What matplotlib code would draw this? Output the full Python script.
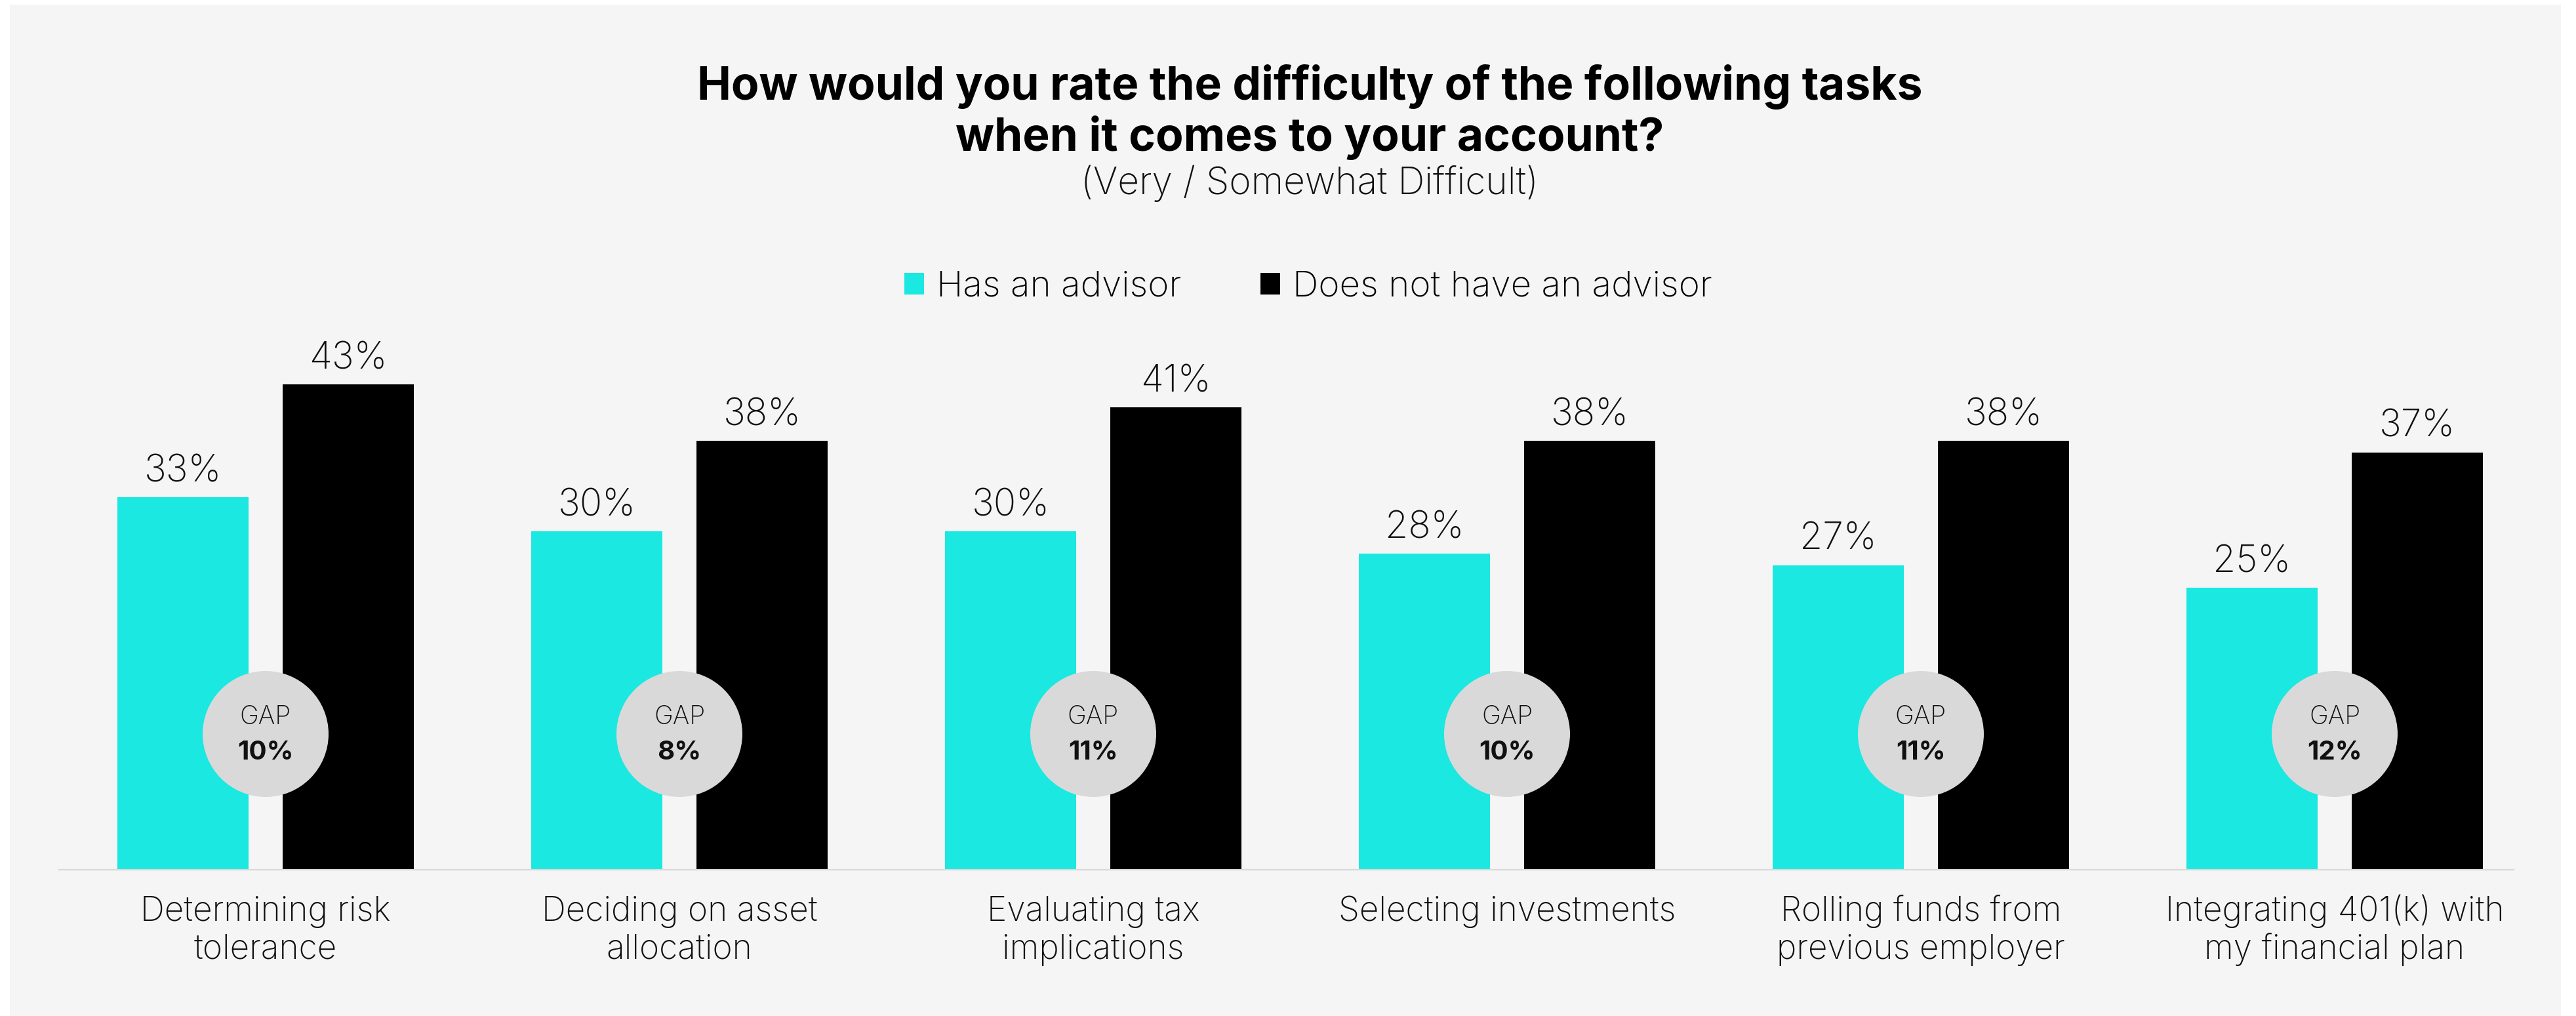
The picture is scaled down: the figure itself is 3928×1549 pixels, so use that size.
import matplotlib
matplotlib.use("Agg")
import matplotlib.pyplot as plt
import matplotlib.transforms as mtransforms
import numpy as np
from matplotlib.patches import Rectangle

# ---- data ----
categories = [
    "Determining risk\ntolerance",
    "Deciding on asset\nallocation",
    "Evaluating tax\nimplications",
    "Selecting investments",
    "Rolling funds from\nprevious employer",
    "Integrating 401(k) with\nmy financial plan",
]
has_advisor = [33, 30, 30, 28, 27, 25]
no_advisor = [43, 38, 41, 38, 38, 37]
series_names = ["Has an advisor", "Does not have an advisor"]

title_lines = [
    "How would you rate the difficulty of the following tasks",
    "when it comes to your account?",
]
subtitle = "(Very / Somewhat Difficult)"

# ---- style ----
FONT = ["Inter", "DejaVu Sans"]
plt.rcParams["font.family"] = FONT
CYAN = "#1be8e0"
BLACK = "#000000"
PANEL = "#f5f5f5"
GAP_FILL = "#d9d9d9"
AXIS = "#d9d9d9"
TEXT = "#111111"
BODY_WEIGHT = "light"

W, H, DPI = 3928, 1549, 100
fig = plt.figure(figsize=(W / DPI, H / DPI), dpi=DPI, facecolor="white")


def fx(px):
    return px / W


def fy(py_from_top):
    return 1 - py_from_top / H


# light grey panel behind everything
fig.patches.append(Rectangle((fx(15), 0), fx(3905 - 15), fy(7), transform=fig.transFigure,
                             facecolor=PANEL, edgecolor="none", zorder=-10))

# ---- axes ----
px_per_unit = 631.0
first_center = 405.0
ax_left_px, ax_right_px = 90.0, 3833.0
base_px = 1326.0
px_per_pct = 17.2
ymax = 50
ax = fig.add_axes([fx(ax_left_px), (H - base_px) / H,
                   fx(ax_right_px - ax_left_px), ymax * px_per_pct / H])
ax.set_facecolor("none")
ax.set_zorder(1)
ax.set_xlim((ax_left_px - first_center) / px_per_unit,
            (ax_right_px - first_center) / px_per_unit)
ax.set_ylim(0, ymax)

x = np.arange(len(categories))
off = 126 / px_per_unit
bw = 200 / px_per_unit
b1 = ax.bar(x - off, has_advisor, bw, color=CYAN, label=series_names[0], zorder=2)
b2 = ax.bar(x + off, no_advisor, bw, color=BLACK, label=series_names[1], zorder=2)

for spine in ["top", "left", "right"]:
    ax.spines[spine].set_visible(False)
ax.spines["bottom"].set_color(AXIS)
ax.spines["bottom"].set_linewidth(1.6)
ax.set_xticks([])
ax.set_yticks([])

# value labels above bars
label_fs = 41
for bars, vals in ((b1, has_advisor), (b2, no_advisor)):
    for rect, v in zip(bars, vals):
        ax.annotate(f"{v}%", (rect.get_x() + rect.get_width() / 2, v),
                    xytext=(0, 17), textcoords="offset points",
                    ha="center", va="baseline", fontsize=label_fs,
                    fontweight=BODY_WEIGHT, color=TEXT, zorder=4)

# GAP bubbles between each pair of bars
gap_y = 207 / px_per_pct
gaps = [n - h for h, n in zip(has_advisor, no_advisor)]
ax.scatter(x, [gap_y] * len(x), s=(192 * 72 / DPI) ** 2, color=GAP_FILL,
           edgecolors="none", zorder=3, clip_on=False)
for xi, g in zip(x, gaps):
    ax.annotate("GAP", (xi, gap_y), xytext=(0, 25 * 72 / DPI), textcoords="offset points",
                ha="center", va="center", fontsize=28, fontweight=BODY_WEIGHT,
                color=TEXT, zorder=5)
    ax.annotate(f"{g}%", (xi, gap_y), xytext=(0, -28 * 72 / DPI), textcoords="offset points",
                ha="center", va="center", fontsize=29, fontweight="bold",
                color=TEXT, zorder=5)

# category labels under the axis
cat_tr = mtransforms.blended_transform_factory(ax.transData, fig.transFigure)
for xi, cat in zip(x, categories):
    for j, line in enumerate(cat.split("\n")):
        ax.text(xi, fy(1404 + 58 * j), line, transform=cat_tr, ha="center",
                va="baseline", fontsize=37, fontweight=BODY_WEIGHT,
                color=TEXT, clip_on=False)

# ---- titles ----
fig.text(fx(1997), fy(152), title_lines[0], ha="center", va="baseline",
         fontsize=50, fontweight="bold", color="#000000")
fig.text(fx(1997), fy(230), title_lines[1], ha="center", va="baseline",
         fontsize=50, fontweight="bold", color="#000000")
fig.text(fx(1997), fy(296), subtitle, ha="center", va="baseline",
         fontsize=41, fontweight="light", color=TEXT)

# ---- legend ----
leg_fs = 39.5
fs_px = leg_fs * DPI / 72
leg = fig.legend(handles=[b1, b2], labels=series_names, loc="center",
                 bbox_to_anchor=(fx(1995), fy(438)), ncol=2, frameon=False,
                 prop={"size": leg_fs, "weight": BODY_WEIGHT},
                 handlelength=30 / fs_px, handleheight=30 / fs_px,
                 handletextpad=19 / fs_px, columnspacing=121 / fs_px,
                 borderpad=0, borderaxespad=0)

fig.savefig("out.png", dpi=DPI, facecolor="white")
